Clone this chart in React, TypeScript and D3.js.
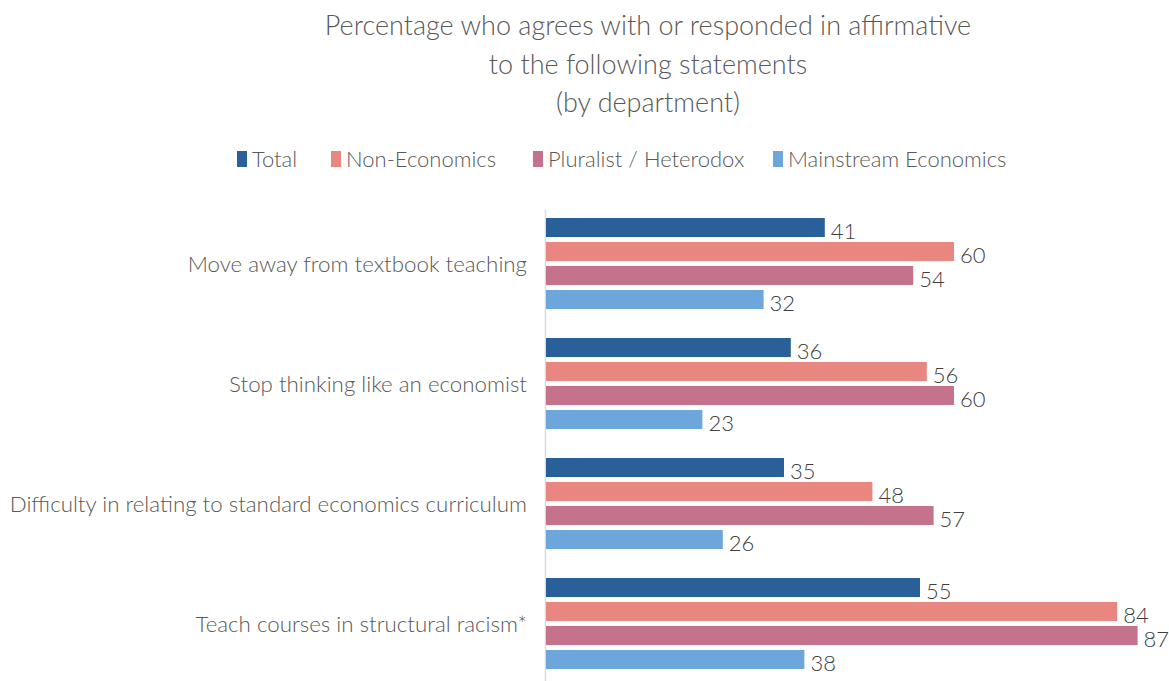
import React from "react";
import * as d3 from "d3";

const categories = [
  "Move away from textbook teaching",
  "Stop thinking like an economist",
  "Difficulty in relating to standard economics curriculum",
  "Teach courses in structural racism*",
];
const seriesNames = ["Total", "Non-Economics", "Pluralist / Heterodox", "Mainstream Economics"];
const totalValues = [41, 36, 35, 55];
const nonEconValues = [60, 56, 48, 84];
const pluralistValues = [54, 60, 57, 87];
const mainstreamValues = [32, 23, 26, 38];
const seriesColors = ["#2A6099", "#E8877F", "#C5728D", "#6CA6DA"];
const titleLines = [
  "Percentage who agrees with or responded in affirmative",
  "to the following statements",
  "(by department)",
];

const W = 1169;
const H = 681;
const FONT = "Lato, 'Open Sans', sans-serif";
const TEXT = "#595959";

export default function App() {
  const seriesValues = [totalValues, nonEconValues, pluralistValues, mainstreamValues];
  const x = d3.scaleLinear().domain([0, 100]).range([546, 546 + 680]);
  const y0 = d3.scaleBand<string>().domain(categories).range([206, 686]);
  const y1 = d3
    .scaleBand<string>()
    .domain(seriesNames)
    .range([9.5, 105.5])
    .paddingInner(0.208)
    .paddingOuter(0.104);

  const legendX = [237, 331, 533, 773];

  return (
    <div style={{ position: "absolute", left: 0, top: 0 }}>
      <svg width={W} height={H} style={{ display: "block", background: "#fff" }}>
        {titleLines.map((t, i) => (
          <text
            key={i}
            x={648}
            y={35 + i * 38.5}
            textAnchor="middle"
            fontFamily={FONT}
            fontSize={27}
            fontWeight={300}
            fill={TEXT}
          >
            {t}
          </text>
        ))}
        {seriesNames.map((s, i) => (
          <g key={s}>
            <rect x={legendX[i]} y={151} width={10} height={16} fill={seriesColors[i]} />
            <text
              x={legendX[i] + 15}
              y={167}
              fontFamily={FONT}
              fontSize={22}
              fontWeight={300}
              fill={TEXT}
            >
              {s}
            </text>
          </g>
        ))}
        <line x1={545.5} x2={545.5} y1={210} y2={H} stroke="#d9d9d9" strokeWidth={1.5} />
        {categories.map((c, ci) => {
          const gy = y0(c)!;
          return (
            <g key={c}>
              <text
                x={527}
                y={gy + y0.bandwidth() / 2 + 6}
                textAnchor="end"
                fontFamily={FONT}
                fontSize={22.3}
                fontWeight={300}
                fill={TEXT}
              >
                {c}
              </text>
              {seriesNames.map((s, si) => {
                const v = seriesValues[si][ci];
                const by = gy + y1(s)!;
                return (
                  <g key={s}>
                    <rect
                      x={x(0)}
                      y={by}
                      width={x(v) - x(0)}
                      height={y1.bandwidth()}
                      fill={seriesColors[si]}
                    />
                    <text
                      x={x(v) + 6}
                      y={by + y1.bandwidth() / 2 + 11}
                      fontFamily={FONT}
                      fontSize={22}
                      fontWeight={300}
                      fill="#404040"
                    >
                      {v}
                    </text>
                  </g>
                );
              })}
            </g>
          );
        })}
      </svg>
    </div>
  );
}
